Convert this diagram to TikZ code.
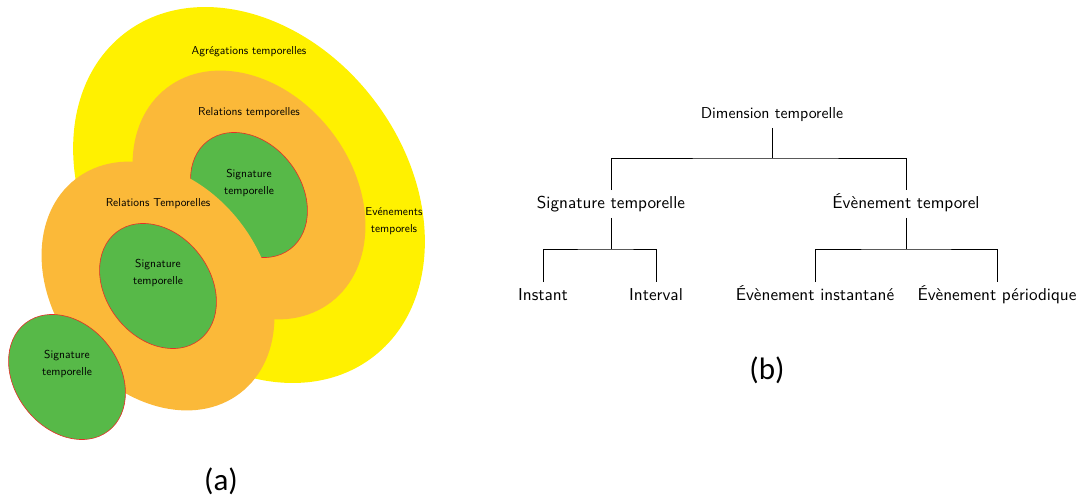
\documentclass[tikz,border=0pt]{standalone}
\usepackage{fontspec}
\newfontfamily\capfont{Carlito}
\newfontfamily\lmten{lmsans10-regular.otf}
\usetikzlibrary{shapes.geometric}
\definecolor{yel}{RGB}{255,241,0}
\definecolor{org}{RGB}{251,185,57}
\definecolor{grn}{RGB}{87,185,72}
\definecolor{redl}{RGB}{230,45,40}
\begin{document}
\begin{tikzpicture}[x=1pt,y=-1pt,
  blob/.style={ellipse, inner sep=0pt, rotate=-52.5},
  yblob/.style={blob, fill=yel, minimum width=408pt, minimum height=314pt},
  oblob/.style={blob, fill=org, minimum width=270pt, minimum height=208pt},
  gblob/.style={blob, fill=grn, draw=redl, line width=0.6pt, minimum width=136pt, minimum height=104pt},
  lbl/.style={font=\lmten\fontsize{11.5}{17}\selectfont, align=center, inner sep=0pt},
  tnode/.style={font=\lmten\fontsize{17.2}{20}\selectfont, text height=11.8pt, text depth=3.5pt, inner xsep=0pt, inner ysep=6pt},
  rootnode/.style={tnode, font=\lmten\fontsize{15.8}{19}\selectfont},
  tline/.style={draw=black, line width=0.8pt},
  captxt/.style={font=\capfont\fontsize{31}{33}\selectfont, inner sep=0pt}]
\useasboundingbox (0,0) rectangle (1079,500);
% (a)
\node[yblob] (agg) at (249,195) {};
\node[oblob] (rel1) at (249,195) {};
\node[gblob] (sig1) at (249,195) {};
\node[oblob] (rel2) at (158,286) {};
\node[gblob] (sig2) at (158,286) {};
\node[gblob] (sig3) at (67,377) {};
\node[lbl] (aggt) at (249,52) {Agrégations temporelles};
\node[lbl] (evtt) at (394,221.5) {Evénements\\temporels};
\node[lbl] (rel1t) at (249,113) {Relations temporelles};
\node[lbl] (sig1t) at (249,182.5) {Signature\\temporelle};
\node[lbl] (rel2t) at (158,204) {Relations Temporelles};
\node[lbl] (sig2t) at (158,272.5) {Signature\\temporelle};
\node[lbl] (sig3t) at (67,363.5) {Signature\\temporelle};
\node[captxt] (capa) at (221,481) {(a)};
% (b)
\node[rootnode] (root) at (772,114) {Dimension temporelle};
\node[tnode] (sig) at (611,204) {Signature temporelle};
\node[tnode] (evt) at (906,204) {Évènement temporel};
\node[tnode] (inst) at (543,296) {Instant};
\node[tnode] (intv) at (656,296) {Interval};
\node[tnode] (einst) at (815,296) {Évènement instantané};
\node[tnode] (eper) at (997,296) {Évènement périodique};
\coordinate (j1) at (772,158);
\coordinate (j2) at (611,249);
\coordinate (j3) at (906,249);
\draw[tline] (root.south) -- (j1);
\draw[tline] (sig.north) |- (j1) -| (evt.north);
\draw[tline] (sig.south) -- (j2);
\draw[tline] (inst.north) |- (j2) -| (intv.north);
\draw[tline] (evt.south) -- (j3);
\draw[tline] (einst.north) |- (j3) -| (eper.north);
\node[captxt] (capb) at (767,370) {(b)};
\end{tikzpicture}
\end{document}
